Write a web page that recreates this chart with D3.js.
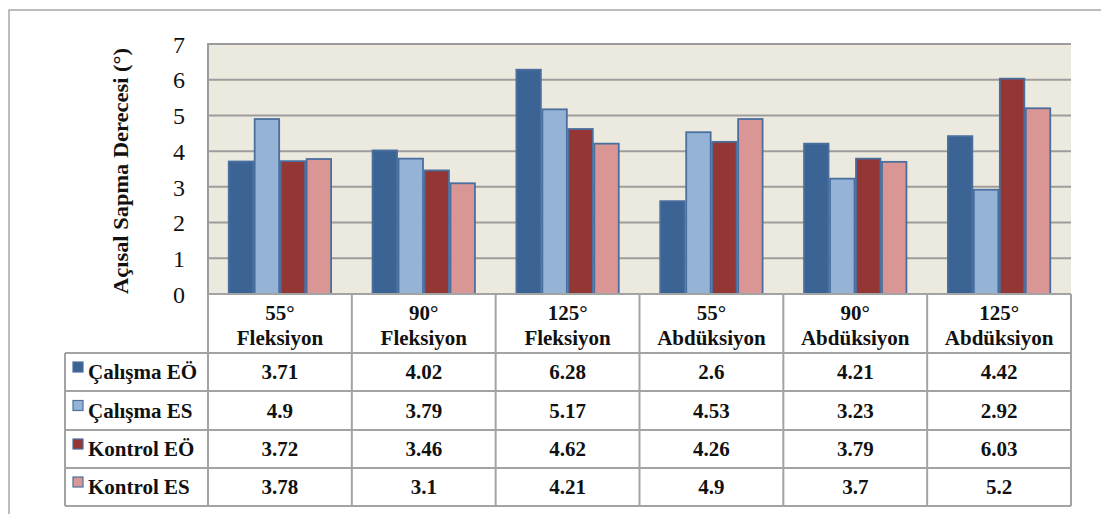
<!DOCTYPE html>
<html>
<head>
<meta charset="utf-8">
<script src="https://cdn.jsdelivr.net/npm/d3@7"></script>
<style>
  html, body { margin: 0; padding: 0; background: #fff; }
  svg { display: block; }
  text { font-family: "Liberation Serif", "Times New Roman", serif; fill: #111; }
</style>
</head>
<body>
<svg id="chart" width="1101" height="514"></svg>
<script>
// Categories (two-line labels) and series
const categories = [
  ["55°", "Fleksiyon"], ["90°", "Fleksiyon"], ["125°", "Fleksiyon"],
  ["55°", "Abdüksiyon"], ["90°", "Abdüksiyon"], ["125°", "Abdüksiyon"]
];
const seriesNames = ["Çalışma EÖ", "Çalışma ES", "Kontrol EÖ", "Kontrol ES"];
const calismaEO = [3.71, 4.02, 6.28, 2.6, 4.21, 4.42];
const calismaES = [4.9, 3.79, 5.17, 4.53, 3.23, 2.92];
const kontrolEO = [3.72, 3.46, 4.62, 4.26, 3.79, 6.03];
const kontrolES = [3.78, 3.1, 4.21, 4.9, 3.7, 5.2];
const yTicks = [0, 1, 2, 3, 4, 5, 6, 7];
const yTitle = "Açısal Sapma Derecesi (°)";

const seriesValues = [calismaEO, calismaES, kontrolEO, kontrolES];
const colors = ["#3B6495", "#95B3D7", "#943634", "#D99694"];

const svg = d3.select("#chart");

// layout
const plot = { left: 208, right: 1071, top: 44, bottom: 294 };
const tableLeft = 65;
const headerBottom = 353;
const rowLines = [353, 391, 430, 468, 506];
const gridColor = "#9c9c9c";

// outer frame
svg.append("rect")
  .attr("x", 9).attr("y", 10)
  .attr("width", 1120).attr("height", 540)
  .attr("fill", "none").attr("stroke", "#a8a8a8").attr("stroke-width", 1.5);

const catIdx = d3.range(categories.length);
const x0 = d3.scaleBand().domain(catIdx).range([plot.left, plot.right])
  .paddingInner(40 / 144).paddingOuter(20 / 144);
// full-width column per category, used by the data table
const xc = d3.scaleBand().domain(catIdx).range([plot.left, plot.right]);
const x1 = d3.scaleBand().domain(d3.range(seriesNames.length)).range([0, x0.bandwidth()]);
const y = d3.scaleLinear().domain([0, 7]).range([plot.bottom, plot.top]);

// plot background
svg.append("rect")
  .attr("x", plot.left).attr("y", plot.top)
  .attr("width", plot.right - plot.left).attr("height", plot.bottom - plot.top)
  .attr("fill", "#ECEADF");

// gridlines
svg.append("g").selectAll("line").data(yTicks.filter(d => d > 0)).join("line")
  .attr("x1", plot.left).attr("x2", plot.right)
  .attr("y1", d => y(d)).attr("y2", d => y(d))
  .attr("stroke", gridColor).attr("stroke-width", 2);

// left axis line
svg.append("line")
  .attr("x1", plot.left).attr("x2", plot.left)
  .attr("y1", plot.top - 1).attr("y2", plot.bottom)
  .attr("stroke", gridColor).attr("stroke-width", 2);

// y tick labels
const yAxis = d3.axisLeft(y).tickValues(yTicks).tickSize(0).tickPadding(0).tickFormat(d3.format("d"));
const gy = svg.append("g").attr("transform", `translate(185,0)`).call(yAxis);
gy.select(".domain").remove();
gy.selectAll("text")
  .attr("font-family", "Liberation Serif, serif")
  .attr("font-size", 24).attr("fill", "#111").attr("dy", "0.34em");

// y title
svg.append("text")
  .attr("transform", `translate(128,${(plot.top + plot.bottom) / 2 + 2}) rotate(-90)`)
  .attr("text-anchor", "middle")
  .attr("font-size", 20).attr("font-weight", "bold")
  .attr("textLength", 246).attr("lengthAdjust", "spacingAndGlyphs")
  .text(yTitle);

// bars
const groups = svg.append("g").selectAll("g").data(catIdx).join("g")
  .attr("transform", i => `translate(${x0(i)},0)`);
groups.selectAll("rect")
  .data(i => seriesValues.map((vals, s) => ({ s, v: vals[i] })))
  .join("rect")
  .attr("x", d => x1(d.s) + 0.75)
  .attr("width", x1.bandwidth() - 1.5)
  .attr("y", d => y(d.v))
  .attr("height", d => y(0) - y(d.v))
  .attr("fill", d => colors[d.s])
  .attr("stroke", "#4A6F9F").attr("stroke-width", 1.8);

// data table
const tbl = svg.append("g");
const lineAttrs = sel => sel.attr("stroke", "#a3a3a3").attr("stroke-width", 2);

// column separators
catIdx.concat([catIdx.length]).forEach(i => {
  const xx = i < catIdx.length ? xc(i) : plot.right;
  tbl.append("line").attr("x1", xx).attr("x2", xx)
    .attr("y1", plot.bottom).attr("y2", rowLines[rowLines.length - 1]).call(lineAttrs);
});
// left border of legend column
tbl.append("line").attr("x1", tableLeft).attr("x2", tableLeft)
  .attr("y1", headerBottom).attr("y2", rowLines[rowLines.length - 1]).call(lineAttrs);
// horizontal lines
tbl.append("line").attr("x1", plot.left).attr("x2", plot.right)
  .attr("y1", plot.bottom).attr("y2", plot.bottom).call(lineAttrs);
rowLines.forEach(yy => {
  tbl.append("line").attr("x1", tableLeft).attr("x2", plot.right)
    .attr("y1", yy).attr("y2", yy).call(lineAttrs);
});

// header labels
catIdx.forEach(i => {
  const cx = xc(i) + xc.bandwidth() / 2;
  const t = tbl.append("text").attr("text-anchor", "middle")
    .attr("font-size", 21).attr("font-weight", "bold");
  t.append("tspan").attr("x", cx).attr("y", 320).text(categories[i][0]);
  t.append("tspan").attr("x", cx).attr("y", 345).text(categories[i][1]);
});

// rows: legend swatch, series name, values
seriesNames.forEach((name, s) => {
  const top = rowLines[s], bot = rowLines[s + 1];
  const cy = (top + bot) / 2;
  tbl.append("rect")
    .attr("x", 73).attr("y", cy - 10).attr("width", 10).attr("height", 10)
    .attr("fill", colors[s]).attr("stroke", "#4A6F9F").attr("stroke-width", 1.2);
  tbl.append("text").attr("x", 88).attr("y", cy + 7)
    .attr("font-size", 21).attr("font-weight", "bold").text(name);
  seriesValues[s].forEach((v, i) => {
    tbl.append("text")
      .attr("x", xc(i) + xc.bandwidth() / 2).attr("y", cy + 7)
      .attr("text-anchor", "middle")
      .attr("font-size", 21).attr("font-weight", "bold")
      .text(String(v));
  });
});
</script>
</body>
</html>
